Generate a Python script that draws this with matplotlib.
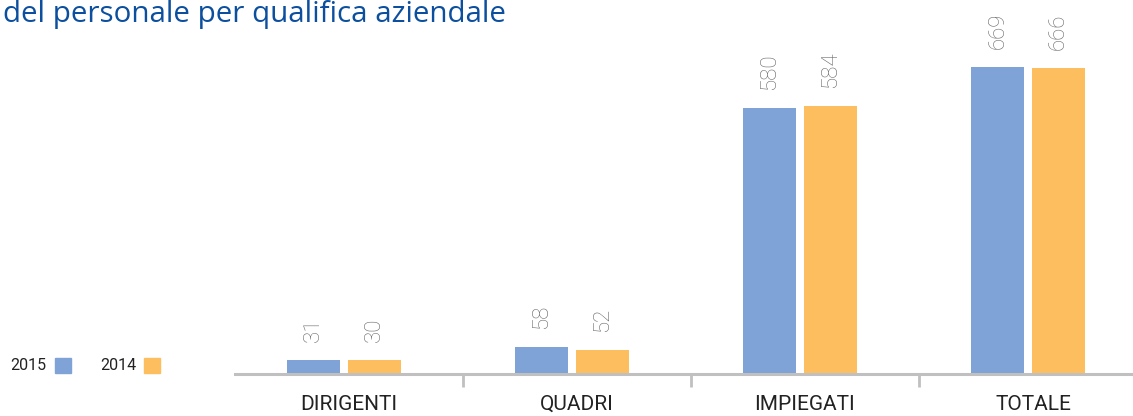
"""Personale per qualifica aziendale, 2015 vs 2014."""

import matplotlib
matplotlib.use("Agg")
import matplotlib.pyplot as plt
import numpy as np

categories = ["DIRIGENTI", "QUADRI", "IMPIEGATI", "TOTALE"]
values_2015 = [31, 58, 580, 669]
values_2014 = [30, 52, 584, 666]
series_names = ["2015", "2014"]

BLUE = "#7fa3d6"
ORANGE = "#fdbe5f"
AXIS_GREY = "#c0c0c0"
FONT = ["Roboto", "DejaVu Sans"]

fig = plt.figure(figsize=(11.33, 4.16), dpi=100)
W, H = 1133, 416
# axes spans from x=235px to ~1147px (slightly past the right edge)
ax = fig.add_axes([235 / W, 42 / H, 912 / W, 374 / H])

x = np.arange(len(categories))
width = 0.232
ax.bar(x - 0.155, values_2015, width, color=BLUE)
ax.bar(x + 0.110, values_2014, width, color=ORANGE)

for xs, vals in ((x - 0.155, values_2015), (x + 0.110, values_2014)):
    for xi, v in zip(xs, vals):
        ax.annotate(str(v), (xi, v), xytext=(0, 13), textcoords="offset points",
                    rotation=90, ha="center", va="bottom", fontsize=16,
                    color="#6a6a6a", family=FONT, fontweight="light")

ax.set_xlim(-0.5, 3.5)
ax.set_ylim(0, 815)
ax.set_yticks([])
for side in ("top", "right", "left"):
    ax.spines[side].set_visible(False)
ax.spines["bottom"].set_color(AXIS_GREY)
ax.spines["bottom"].set_linewidth(2.2)

ax.set_xticks(x)
ax.set_xticklabels(categories, family=FONT, fontsize=15, color="#222222")
ax.tick_params(axis="x", which="major", length=0, pad=15)
ax.set_xticks(x[:-1] + 0.5, minor=True)
ax.tick_params(axis="x", which="minor", length=9, width=2, color=AXIS_GREY)

fig.text(3 / W, 1 - 22 / H, "del personale per qualifica aziendale", fontsize=21.3,
         color="#0b4f9e", family=["Open Sans", "DejaVu Sans"], va="baseline")

# legend drawn manually at bottom-left
legend_y = 1 - 366 / H
for name, color, tx, sx in ((series_names[0], BLUE, 10, 55), (series_names[1], ORANGE, 100, 144)):
    fig.text(tx / W, legend_y, name, fontsize=11.5, color="#222222", family=FONT,
             va="center")
    fig.patches.append(plt.Rectangle((sx / W, 1 - 373 / H), 16 / W, 15 / H,
                                     transform=fig.transFigure, color=color))

fig.savefig("out.png", dpi=100)
